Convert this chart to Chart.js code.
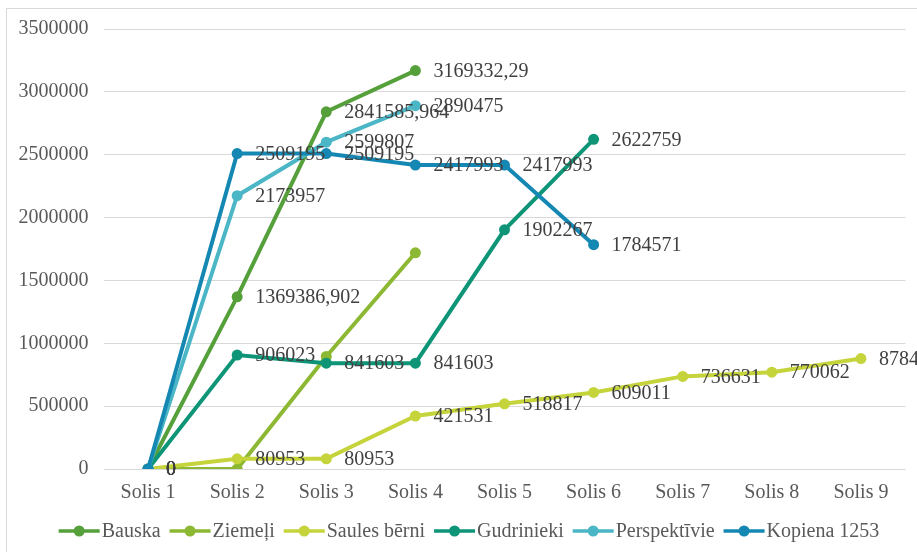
<!DOCTYPE html>
<html lang="lv">
<head>
<meta charset="UTF-8">
<meta name="viewport" content="width=device-width, initial-scale=1.0">
<title>Solis</title>
<script src="https://cdn.jsdelivr.net/npm/chart.js"></script>
<style>
  html, body { margin: 0; padding: 0; background: #fff; overflow: hidden; }
  .wrap { position: relative; width: 917px; height: 552px; }
  /* light frame around the chart, open to the right and bottom */
  .frame { position: absolute; left: 6px; top: 8px; width: 940px; height: 600px; border: 1px solid #d9d9d9; }
  #soliChart { position: absolute; left: 0; top: 0; }
</style>
</head>
<body>
<div class="wrap">
  <div class="frame"></div>
  <canvas id="soliChart" width="917" height="552"></canvas>
</div>
<script>
// Kategorijas un vērtības
const steps = ['Solis 1', 'Solis 2', 'Solis 3', 'Solis 4', 'Solis 5', 'Solis 6', 'Solis 7', 'Solis 8', 'Solis 9'];
const bauska = [0, 1369386.902, 2841585.964, 3169332.29];
const ziemeli = [0, 0, 895000, 1720000];
const saulesBerni = [0, 80953, 80953, 421531, 518817, 609011, 736631, 770062, 878425];
const gudrinieki = [0, 906023, 841603, 841603, 1902267, 2622759];
const perspektivie = [0, 2173957, 2599807, 2890475];
const kopiena = [0, 2509195, 2509195, 2417993, 2417993, 1784571];
const yTicks = [0, 500000, 1000000, 1500000, 2000000, 2500000, 3000000, 3500000];

const FONT = '"Liberation Serif", "Times New Roman", serif';

const series = [
  { label: 'Bauska', data: bauska, color: '#55a03a', values: true },
  { label: 'Ziemeļi', data: ziemeli, color: '#8cb833', values: false },
  { label: 'Saules bērni', data: saulesBerni, color: '#c5d43b', values: true },
  { label: 'Gudrinieki', data: gudrinieki, color: '#0e9476', values: true },
  { label: 'Perspektīvie', data: perspektivie, color: '#4bb6c6', values: true },
  { label: 'Kopiena 1253', data: kopiena, color: '#1587b3', values: true }
];

// vērtību uzraksti pa labi no punktiem
const valueLabels = {
  id: 'valueLabels',
  afterDatasetsDraw(chart) {
    const ctx = chart.ctx;
    ctx.save();
    ctx.font = '20px ' + FONT;
    ctx.fillStyle = '#404040';
    ctx.textAlign = 'left';
    ctx.textBaseline = 'middle';
    chart.data.datasets.forEach((ds, i) => {
      if (!ds.showValues) return;
      chart.getDatasetMeta(i).data.forEach((pt, j) => {
        ctx.fillText(String(ds.data[j]).replace('.', ','), pt.x + 18, pt.y + 1);
      });
    });
    ctx.restore();
  }
};

// leģenda apakšā: līnija ar punktu un nosaukums
const lineLegend = {
  id: 'lineLegend',
  afterDraw(chart) {
    const ctx = chart.ctx;
    const iconW = 41, textGap = 2, itemGap = 9, cy = 531;
    ctx.save();
    ctx.font = '20px ' + FONT;
    ctx.textBaseline = 'middle';
    ctx.textAlign = 'left';
    const items = chart.data.datasets.map(ds => ({
      color: ds.borderColor,
      text: ds.label,
      w: iconW + textGap + ctx.measureText(ds.label).width
    }));
    const total = items.reduce((s, it) => s + it.w, 0) + itemGap * (items.length - 1);
    let x = 469 - total / 2;
    items.forEach(it => {
      ctx.strokeStyle = it.color;
      ctx.lineWidth = 3.5;
      ctx.beginPath();
      ctx.moveTo(x, cy);
      ctx.lineTo(x + iconW, cy);
      ctx.stroke();
      ctx.fillStyle = it.color;
      ctx.beginPath();
      ctx.arc(x + iconW / 2, cy, 5.5, 0, Math.PI * 2);
      ctx.fill();
      ctx.fillStyle = '#595959';
      ctx.fillText(it.text, x + iconW + textGap, cy + 1);
      x += it.w + itemGap;
    });
    ctx.restore();
  }
};

const ctx = document.getElementById('soliChart').getContext('2d');
new Chart(ctx, {
  type: 'line',
  data: {
    labels: steps,
    datasets: series.map((s, i) => ({
      label: s.label,
      data: s.data,
      borderColor: s.color,
      backgroundColor: s.color,
      pointBackgroundColor: s.color,
      pointBorderWidth: 0,
      pointRadius: 5.5,
      borderWidth: 4,
      tension: 0,
      order: series.length - i,
      showValues: s.values
    }))
  },
  options: {
    responsive: false,
    animation: false,
    layout: { padding: { top: 29, right: 11.5, bottom: 47, left: 0 } },
    plugins: {
      tooltip: { enabled: false },
      legend: { display: false }
    },
    scales: {
      x: {
        offset: true,
        grid: { display: false, drawTicks: false },
        border: { display: false },
        afterFit(scale) { scale.height = 36; },
        ticks: { color: '#595959', font: { size: 20, family: FONT }, padding: 12, maxRotation: 0 }
      },
      y: {
        min: 0,
        max: 3500000,
        afterBuildTicks(scale) { scale.ticks = yTicks.map(v => ({ value: v })); },
        afterFit(scale) { scale.width = 103.5; },
        grid: { color: '#d9d9d9', lineWidth: 1, drawTicks: false },
        border: { display: false },
        ticks: { color: '#595959', font: { size: 20, family: FONT }, padding: 15, callback: v => String(v) }
      }
    }
  },
  plugins: [valueLabels, lineLegend]
});
</script>
</body>
</html>
